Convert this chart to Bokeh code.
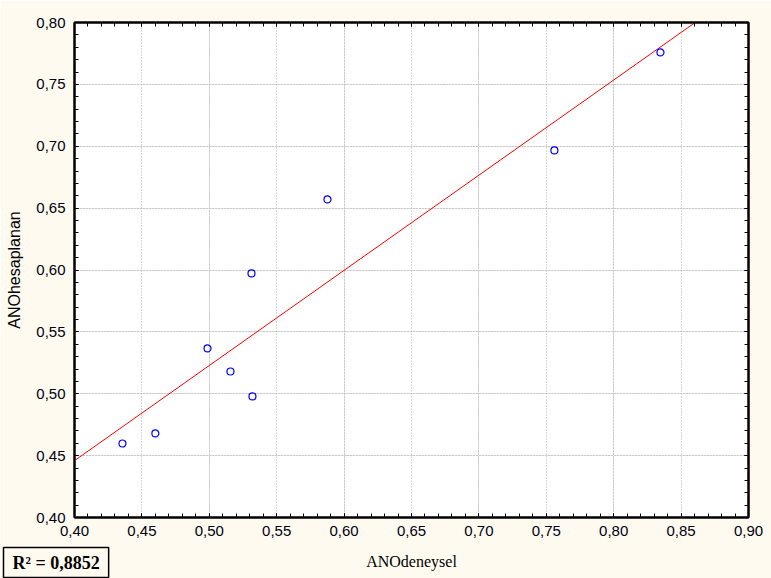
import numpy as np
from bokeh.plotting import figure
from bokeh.models import (Range1d, LinearAxis, SingleIntervalTicker, CustomJSTickFormatter,
                          Label, ColumnDataSource, Grid)
from bokeh.embed import file_html
from bokeh.resources import INLINE

# data
ano_deneysel = [0.4356, 0.4600, 0.4987, 0.5157, 0.5320, 0.5313, 0.5877, 0.7560, 0.8347]
ano_hesaplanan = [0.4598, 0.4679, 0.5366, 0.5180, 0.4978, 0.5972, 0.6570, 0.6966, 0.7758]
r2_text = "R\u00b2 = 0,8852"
x_label = "ANOdeneysel"
y_label = "ANOhesaplanan"

BG = "#FFFAF0"

p = figure(width=771, height=578, output_backend="svg", toolbar_location=None,
           x_range=Range1d(0.40, 0.90), y_range=Range1d(0.40, 0.80),
           x_axis_location=None, y_axis_location=None,
           min_border_left=74, min_border_right=23, min_border_top=22, min_border_bottom=61)
p.background_fill_color = "white"
p.border_fill_color = BG
p.outline_line_color = "black"
p.outline_line_width = 2

fmt = CustomJSTickFormatter(code="return tick.toFixed(2).replace('.', ',');")

def make_axis(interval, labels=True, label_text=None):
    ax = LinearAxis(ticker=SingleIntervalTicker(interval=interval, num_minor_ticks=5),
                    formatter=fmt)
    ax.axis_line_color = "black"
    ax.axis_line_width = 2
    ax.major_tick_in = 4
    ax.major_tick_out = 0
    ax.minor_tick_in = 4
    ax.minor_tick_out = 0
    ax.major_tick_line_color = "black"
    ax.minor_tick_line_color = "black"
    if labels:
        ax.major_label_text_font = "Liberation Sans"
        ax.major_label_text_font_size = "15px"
        ax.major_label_text_color = "#000010"
    else:
        ax.major_label_text_font_size = "0px"
        ax.major_label_text_color = None
        ax.major_label_standoff = 0
    if label_text:
        ax.axis_label = label_text
        ax.axis_label_text_color = "black"
    return ax

xb = make_axis(0.05, True)
xb.major_label_standoff = 8
p.add_layout(xb, "below")

yl = make_axis(0.05, True, y_label)
yl.major_label_standoff = 9
yl.axis_label_text_font = "Liberation Sans"
yl.axis_label_text_font_size = "16px"
yl.axis_label_text_font_style = "normal"
yl.axis_label_standoff = 10
p.add_layout(yl, "left")

xt = make_axis(0.05, False)
p.add_layout(xt, "above")
yr = make_axis(0.05, False)
p.add_layout(yr, "right")

p.add_layout(Grid(dimension=0, ticker=xb.ticker, grid_line_color="#B0B0B0",
                  grid_line_dash="1 2", grid_line_width=1))
p.add_layout(Grid(dimension=1, ticker=yl.ticker, grid_line_color="#B0B0B0",
                  grid_line_dash="1 2", grid_line_width=1))

# regression line
slope, intercept = np.polyfit(ano_deneysel, ano_hesaplanan, 1)
lx = [p.x_range.start, p.x_range.end]
ly = [intercept + slope * v for v in lx]
p.line(lx, ly, line_color="#FF0000", line_width=1)

src = ColumnDataSource(dict(x=ano_deneysel, y=ano_hesaplanan))
p.scatter("x", "y", source=src, size=7, marker="circle", fill_color=None,
          line_color="#0000FF", line_width=1.2)

# R² box (in the bottom panel so it is not clipped to the frame)
lab = Label(x=-71, y=21, x_units="screen", y_units="screen", text=r2_text,
            text_font="Liberation Serif", text_font_size="18px", text_font_style="bold",
            text_color="black", text_align="left", text_baseline="top",
            border_line_color="black", border_line_width=1.5,
            background_fill_color=BG, padding=(9, 5))
p.add_layout(lab, "below")

# x axis title, placed as a label in the top panel (bottom panel has no room)
xlab = Label(x=337, y=-539, x_units="screen", y_units="screen", text=x_label,
             text_font="Liberation Serif", text_font_size="16px",
             text_color="black", text_align="center", text_baseline="middle")
p.add_layout(xlab, "above")

open("out.html", "w").write(file_html(p, INLINE))
